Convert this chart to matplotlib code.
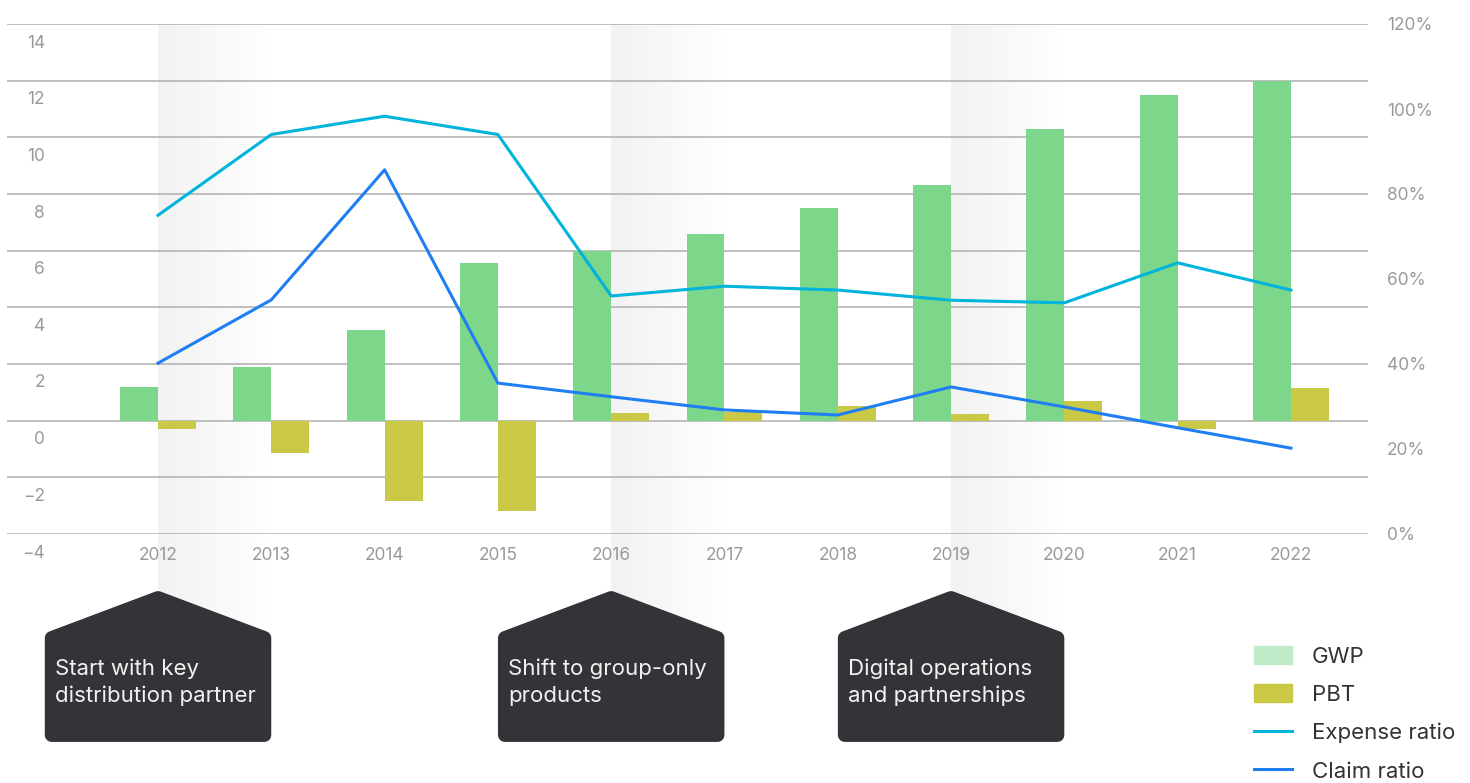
import matplotlib
matplotlib.use("Agg")
import matplotlib.pyplot as plt
import matplotlib.transforms as mtransforms
from matplotlib.patches import Patch, Polygon
from matplotlib.lines import Line2D
import numpy as np

# ---------------- data ----------------
years = ['2012', '2013', '2014', '2015', '2016', '2017', '2018', '2019', '2020', '2021', '2022']
gwp = [1.2, 1.9, 3.2, 5.55, 6.0, 6.6, 7.5, 8.3, 10.3, 11.5, 12.0]
pbt = [-0.3, -1.15, -2.85, -3.2, 0.28, 0.3, 0.5, 0.25, 0.7, -0.3, 1.15]
expense_ratio = [75, 94, 98.3, 94, 56, 58.3, 57.4, 55, 54.4, 63.8, 57.4]
claim_ratio = [40.2, 55.1, 85.7, 35.5, 32.3, 29.2, 28, 34.6, 29.9, 25, 20.2]

left_ticks = [-4, -2, 0, 2, 4, 6, 8, 10, 12, 14]
right_ticks = [0, 20, 40, 60, 80, 100, 120]

milestones = ['2012', '2016', '2019']
milestone_text = ['Start with key\ndistribution partner',
                  'Shift to group-only\nproducts',
                  'Digital operations\nand partnerships']

# colours
c_gwp = '#7dd78a'
c_gwp_legend = '#bfecc8'
c_pbt = '#cac945'
c_exp = '#00b4dc'
c_claim = '#1f7ff2'
c_box = '#333438'
c_tick = '#9a9a9a'

plt.rcParams['font.family'] = ['Inter', 'DejaVu Sans']

fig = plt.figure(figsize=(14.7, 7.83), dpi=100)
ax1 = fig.add_axes([7/1470, 1-534/783, (1368-7)/1470, (534-24)/783])
ax2 = ax1.twinx()

x = np.arange(len(years))
w = 0.335

# shaded gradient bands behind the milestone years
grad = np.linspace(0, 1, 256).reshape(1, -1)
cmap = matplotlib.colors.LinearSegmentedColormap.from_list('fade', ['#f2f2f2', '#ffffff'])
for m in milestones:
    i = years.index(m)
    ax1.imshow(grad, extent=(i, i + 1.0, -7.8, 14), aspect='auto', cmap=cmap,
               zorder=0, clip_on=False, interpolation='bicubic')

ax1.bar(x - w/2, gwp, width=w, color=c_gwp, zorder=3)
ax1.bar(x + w/2, pbt, width=w, color=c_pbt, zorder=3)

ax2.plot(x, expense_ratio, color=c_exp, lw=2.2, zorder=4)
ax2.plot(x, claim_ratio, color=c_claim, lw=2.2, zorder=4)

ax1.set_xlim(-1.333, 10.68)
ax1.set_ylim(-4, 14)
ax2.set_ylim(0, 120)

ax1.set_yticks(left_ticks)
ax1.set_yticklabels([f'{t}'.replace('-', '\u2212') for t in left_ticks])
ax2.set_yticks(right_ticks)
ax2.set_yticklabels([f'{t}%' for t in right_ticks])
ax1.set_xticks(x)
ax1.set_xticklabels(years)

ax1.grid(axis='y', color='#b4b4b4', lw=1.2, zorder=1)
ax1.set_axisbelow(True)
ax2.grid(False)
for a in (ax1, ax2):
    for s in a.spines.values():
        s.set_visible(False)
    a.tick_params(length=0, labelsize=12.5, colors=c_tick)
ax1.tick_params(axis='y', pad=-27.4)
ax1.tick_params(axis='x', pad=9)
ax2.tick_params(axis='y', pad=13.5)
ax1.patch.set_visible(False)

# left labels sit just below their gridlines
off = mtransforms.ScaledTranslation(0, -17/100, fig.dpi_scale_trans)
for lab in ax1.get_yticklabels():
    lab.set_transform(lab.get_transform() + off)
    lab.set_horizontalalignment('right')

# milestone boxes (house shaped) below the axis
tr = mtransforms.blended_transform_factory(ax1.transData, fig.transFigure)
rx, ry = 7/113.3, 7/783
y_apex, y_sh, y_bot = 1-591/783, 1-638/783, 1-742/783
for m, txt in zip(milestones, milestone_text):
    i = years.index(m)
    pts = [(i - 1 + rx, y_bot + ry), (i + 1 - rx, y_bot + ry), (i + 1 - rx, y_sh),
           (i, y_apex - ry), (i - 1 + rx, y_sh)]
    poly = Polygon(pts, closed=True, transform=tr, facecolor=c_box, edgecolor=c_box,
                   lw=10, joinstyle='round', clip_on=False, zorder=5)
    ax1.add_patch(poly)
    ax1.text(i - 1 + 10/113.3, 1-682/783, txt, transform=tr, color='#f2f2f2',
             fontsize=16, ha='left', va='center', linespacing=1.42, zorder=6)

handles = [Patch(color=c_gwp_legend, label='GWP'),
           Patch(color=c_pbt, label='PBT'),
           Line2D([], [], color=c_exp, lw=2.2, label='Expense ratio'),
           Line2D([], [], color=c_claim, lw=2.2, label='Claim ratio')]
fig.legend(handles=handles, loc='upper left', bbox_to_anchor=(1254/1470, 1-646/783),
           frameon=False, fontsize=16, handlelength=1.71, handleheight=0.85,
           handletextpad=0.89, labelspacing=0.8, borderpad=0, borderaxespad=0,
           labelcolor='#333333')

fig.savefig('out.png', dpi=100)
